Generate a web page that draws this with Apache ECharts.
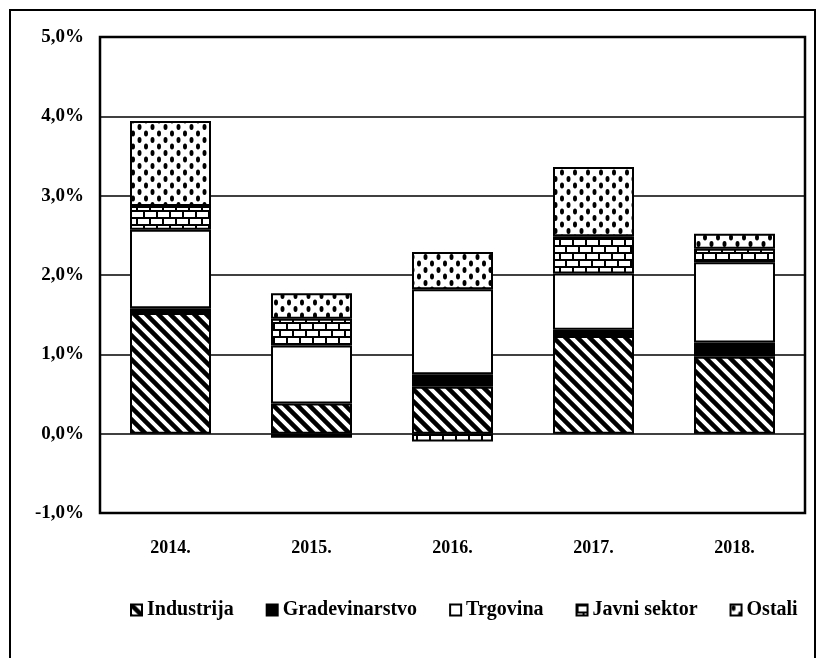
<!DOCTYPE html>
<html>
<head>
<meta charset="utf-8">
<script src="https://cdn.jsdelivr.net/npm/echarts@6/dist/echarts.min.js"></script>
<style>
  body { margin: 0; background: #fff; }
  #chart { width: 820px; height: 658px; }
</style>
</head>
<body>
<div id="chart"></div>
<script>
// podaci (u %)
var years = ['2014.', '2015.', '2016.', '2017.', '2018.'];
var industrija = [1.52, 0.38, 0.59, 1.23, 0.97];
var gradevinarstvo = [0.06, -0.05, 0.16, 0.08, 0.18];
var trgovina = [0.99, 0.73, 1.07, 0.71, 1.01];
var javniSektor = [0.30, 0.34, -0.10, 0.47, 0.17];
var ostali = [1.07, 0.32, 0.47, 0.87, 0.19];
var yTicks = [-1, 0, 1, 2, 3, 4, 5];

// uzorci za stupce
function tile(w, h, draw){
	var c = document.createElement('canvas');
	c.width = w; c.height = h;
	var ctx = c.getContext('2d');
	ctx.fillStyle = '#fff';
	ctx.fillRect(0, 0, w, h);
	ctx.fillStyle = '#000';
	ctx.strokeStyle = '#000';
	draw(ctx);
	return { image: c, repeat: 'repeat' };
}
var hatch = tile(12, 12, function(ctx){
	ctx.lineWidth = 4.5;
	ctx.beginPath();
	ctx.moveTo(-6, -6); ctx.lineTo(18, 18);
	ctx.moveTo(-6, 6); ctx.lineTo(6, 18);
	ctx.moveTo(6, -6); ctx.lineTo(18, 6);
	ctx.stroke();
});
var brick = tile(26, 14, function(ctx){
	ctx.fillRect(0, 0, 26, 2);
	ctx.fillRect(0, 7, 26, 2);
	ctx.fillRect(0, 0, 2, 7);
	ctx.fillRect(13, 0, 2, 7);
	ctx.fillRect(6, 7, 2, 7);
	ctx.fillRect(19, 7, 2, 7);
});
var dots = tile(13, 13, function(ctx){
	ctx.beginPath();
	ctx.ellipse(3, 3.5, 2, 3, 0, 0, Math.PI * 2);
	ctx.ellipse(9.5, 10, 2, 3, 0, 0, Math.PI * 2);
	ctx.fill();
});

var fontFam = '"Liberation Serif", "DejaVu Serif", serif';
function mkSeries(name, data, color){
	return {
		name: name,
		type: 'bar',
		stack: 'ukupno',
		barWidth: 81,
		data: data,
		itemStyle: { color: color, borderColor: '#000', borderWidth: 2 },
		emphasis: { disabled: true }
	};
}

var myChart = echarts.init(document.getElementById('chart'));
var option = {
	backgroundColor: '#fff',
	animation: false,
	grid: {
		left: 100, right: 15, top: 37, bottom: 145,
		show: true, borderColor: '#000', borderWidth: 2.5
	},
	graphic: [{
		type: 'rect',
		shape: { x: 10, y: 10, width: 805, height: 660 },
		style: { fill: 'none', stroke: '#000', lineWidth: 2 }
	}],
	legend: {
		top: 595,
		left: 125,
		icon: 'rect',
		itemWidth: 11,
		itemHeight: 11,
		itemGap: 32,
		textStyle: { fontFamily: fontFam, fontWeight: 'bold', fontSize: 20, color: '#000' },
		data: ['Industrija', 'Gradevinarstvo', 'Trgovina', 'Javni sektor', 'Ostali']
	},
	xAxis: {
		type: 'category',
		data: years,
		axisLine: { show: false },
		axisTick: { show: false },
		axisLabel: { margin: 26, fontFamily: fontFam, fontWeight: 'bold', fontSize: 18, color: '#000' }
	},
	yAxis: {
		type: 'value',
		min: yTicks[0],
		max: yTicks[yTicks.length - 1],
		interval: 1,
		axisLine: { show: false },
		axisTick: { show: false },
		splitLine: { lineStyle: { color: '#000', width: 1.5 } },
		axisLabel: {
			margin: 16,
			fontFamily: fontFam, fontWeight: 'bold', fontSize: 19, color: '#000',
			formatter: function(v){ return v.toFixed(1).replace('.', ',') + '%'; }
		}
	},
	series: [
		mkSeries('Industrija', industrija, hatch),
		mkSeries('Gradevinarstvo', gradevinarstvo, '#000'),
		mkSeries('Trgovina', trgovina, '#fff'),
		mkSeries('Javni sektor', javniSektor, brick),
		mkSeries('Ostali', ostali, dots)
	]
};
myChart.setOption(option);
</script>
</body>
</html>
